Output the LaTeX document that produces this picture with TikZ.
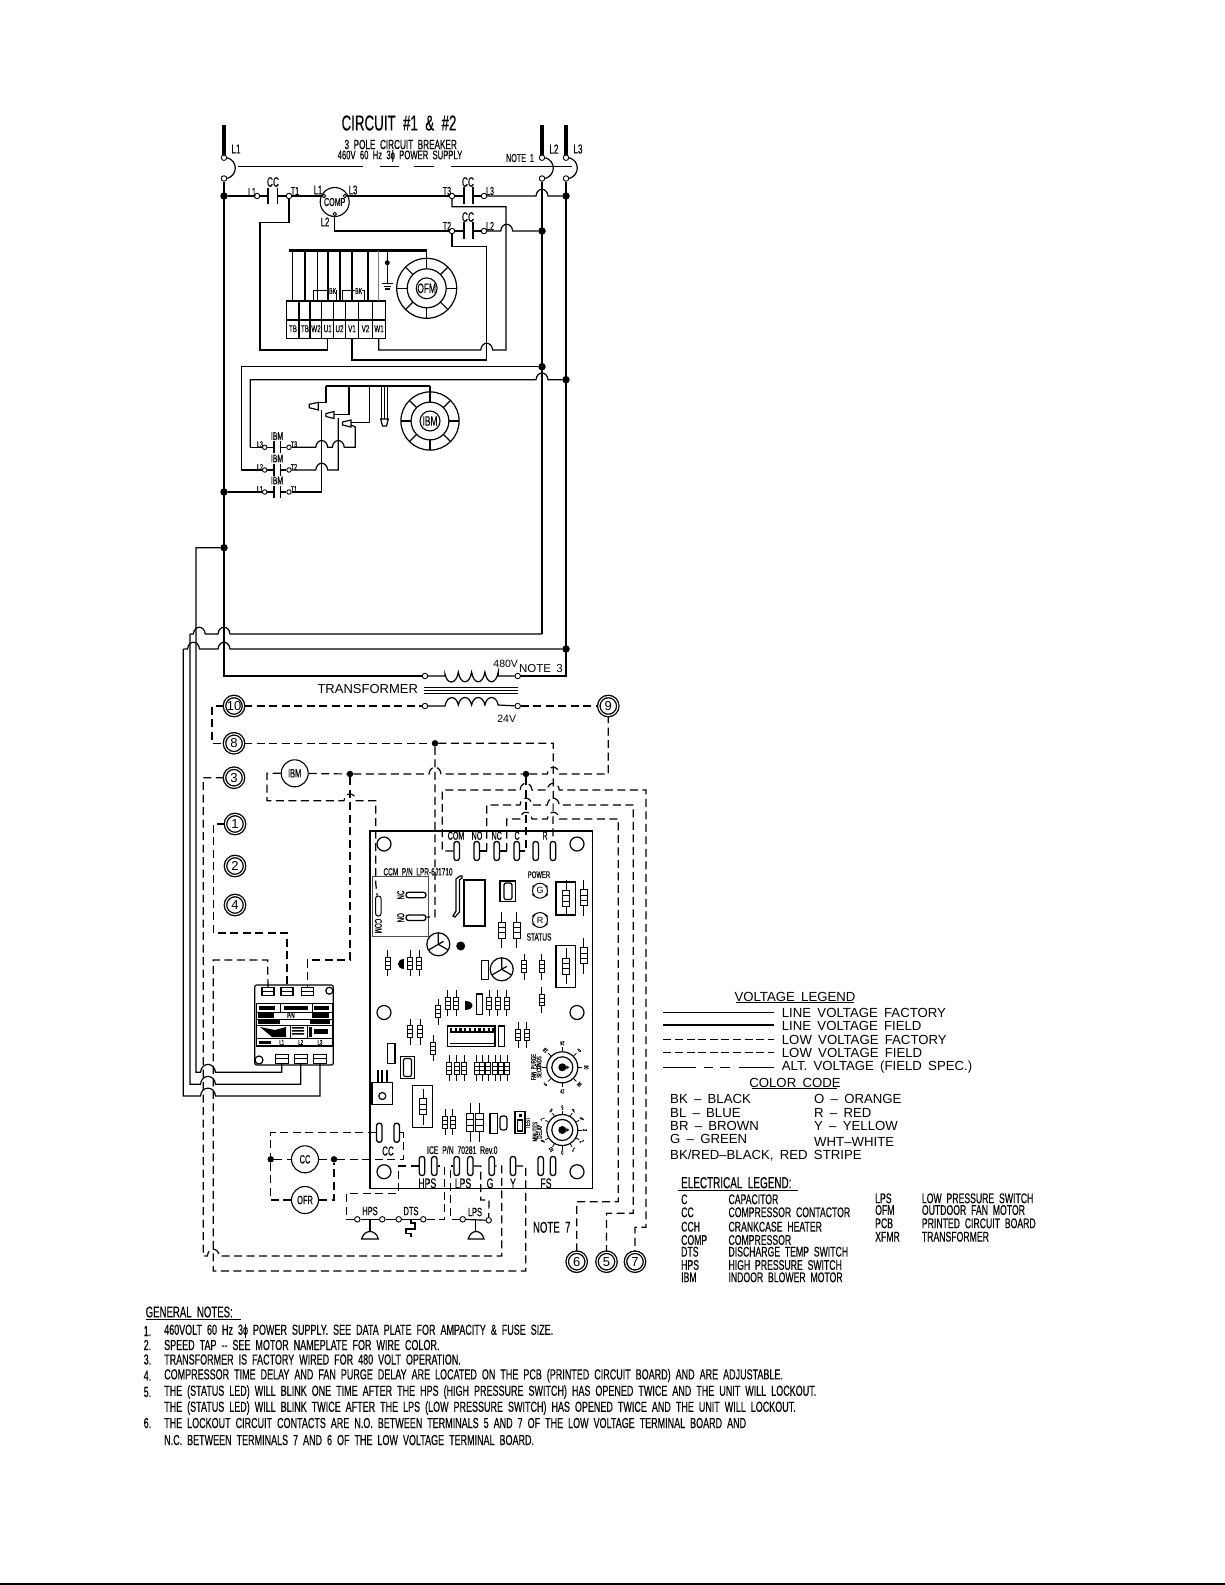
\documentclass[tikz,border=0pt]{standalone}
\usepackage{fontspec}
\setmainfont[WordSpace=1.7]{Liberation Sans}
\newfontfamily\cadn[FakeStretch=0.62,WordSpace=2,FakeBold=0.3]{Liberation Sans}
\newcommand{\wirehop}[2]{-- (#1-6,#2) .. controls (#1-5,#2-9) and (#1+5,#2-9) .. (#1+6,#2)}
\newcommand{\widehop}[2]{-- (#1-7.5,#2) .. controls (#1-6.5,#2-10.5) and (#1+6.5,#2-10.5) .. (#1+7.5,#2)}
\tikzset{
wire/.style={line width=1.2pt},
busw/.style={line width=2.6pt},
lowv/.style={line width=1.2pt,dash pattern=on 8pt off 4.5pt},
thinw/.style={line width=.8pt},
dot/.style={circle,fill=black,inner sep=0pt,minimum size=7.5pt},
term/.style={circle,draw,line width=.9pt,fill=white,inner sep=0pt,minimum size=5.5pt},
ring/.style={circle,draw,line width=1.3pt,double distance=1.1pt,fill=white,inner sep=0pt,minimum size=19pt,font=\fontsize{13}{13}\selectfont},
coil/.style={circle,draw,line width=1.1pt,inner sep=0pt,minimum size=27pt,cad=12},
cad/.style={inner sep=0pt,font=\cadn\fontsize{#1}{#1}\selectfont},
cadw/.style={inner sep=0pt,anchor=west,cad=#1},
wide/.style={inner sep=0pt,anchor=west,font=\fontsize{13.2}{14}\selectfont},
pinv/.style={rectangle,rounded corners=2.5pt,draw,line width=1.3pt,minimum width=5.5pt,minimum height=19pt,inner sep=0pt,fill=white},
pinh/.style={rectangle,rounded corners=2.5pt,draw,line width=1.3pt,minimum width=20pt,minimum height=5.5pt,inner sep=0pt,fill=white},
lug/.style={rectangle,draw,line width=1.1pt,minimum width=12pt,minimum height=8pt,inner sep=0pt,path picture={\draw (path picture bounding box.west) -- (path picture bounding box.east);}},
resv/.pic={
  \draw[thinw] (0,-18) -- (0,18);
  \draw[line width=1pt,fill=white] (-3.4,-8) rectangle (3.4,8);
  \draw[thinw] (-3.4,-2.7) -- (3.4,-2.7) (-3.4,2.7) -- (3.4,2.7);
},
fan/.pic={
  \draw[wire] (0,0) circle (30) (0,0) circle (19.5);
  \foreach \a in {0,45,...,315} \draw[wire] (\a:19.5) -- (\a:30);
},
trans/.pic={
  \draw[wire] (0,0) circle (11.5);
  \draw[wire] (0,0) -- (30:11.5) (0,0) -- (150:11.5) (0,0) -- (270:11.5);
  \draw[wire] (0,0) -- (-30:6);
},
dial/.pic={
  \draw[wire] (0,0) circle (15.5) (0,0) circle (10.5);
  \fill (0,0) circle (4);
  \fill (4,-2) -- (7,0) -- (4,2) -- cycle;
},
}
\begin{document}
\begin{tikzpicture}[x=1pt,y=-1pt]
\useasboundingbox (0,0) rectangle (1225,1585);
\draw[line width=1.6pt] (0,1584.2) -- (1225,1584.2);

% breaker and line side
\foreach \n/\x in {l1/224,l2/542,l3/566}{
  \draw[line width=3.6pt] (\x,125) -- (\x,155);
  \node[term] (\n top) at (\x,157.7) {};
  \node[term] (\n bot) at (\x,178.5) {};
  \draw[wire] (\n top.east) .. controls (\x+14,161) and (\x+14,175) .. (\n bot.east);
}
\node[cad=13] at (236,149) {L1};
\node[cad=13] at (554,149) {L2};
\node[cad=13] at (578,149) {L3};
\node[cad=11.5] at (520,158) {NOTE 1};
\node[cad=21.5] at (399,123) {CIRCUIT \#1 \& \#2};
\node[cad=13.2] at (400.7,144.5) {3 POLE CIRCUIT BREAKER};
\node[cad=12.4] at (400,156) {460V 60 Hz 3ϕ POWER SUPPLY};
\draw[wire] (238,166.7) -- (363,166.7) (380,166.7) -- (399,166.7) (414,166.7) -- (434,166.7) (451,166.7) -- (572,166.7);

\node[dot] (jl1) at (224,196) {};
\node[dot] (jl1b) at (224,492) {};
\node[dot] (jl1c) at (224,547.7) {};
\node[dot] (jl3) at (566,196) {};
\node[dot] (jl2) at (542,231) {};
\node[dot] (jl2b) at (542,366.7) {};
\node[dot] (jl3b) at (566,379.7) {};
\node[dot] (jl3c) at (566,649) {};
\draw[wire] (l1bot) -- (224,676) -- (425,676);
\draw[wire] (l2bot) -- (542,634);
\draw[wire] (l3bot) -- (566,676) -- (517.7,676);

% compressor contactor
\foreach \n/\t/\x/\y in {a/L1/257/196,b/T1/289/196,c/T3/452/196,d/L3/484/196,e/T2/452/231,f/L2/484/231}
  \node[term] (cc\n) at (\x,\y) {};
\draw[wire] (268,188) -- (268,204) (277.7,188) -- (277.7,204);
\draw[wire] (464,187) -- (464,204) (473,187) -- (473,204);
\draw[wire] (464,222) -- (464,239) (473,222) -- (473,239);
\draw[wire] (jl1) -- (cca) -- (268,196) (277.7,196) -- (ccb);
\draw[wire] (ccc) -- (464,196) (473,196) -- (ccd);
\draw[wire] (cce) -- (464,231) (473,231) -- (ccf);
\node[cad=13.5] at (273,182) {CC};
\node[cad=13.5] at (468,182) {CC};
\node[cad=13.5] at (468,217) {CC};
\node[cad=11.5] at (252,192) {L1};
\node[cad=11.5] at (295,191) {T1};
\node[cad=11.5] at (447,191) {T3};
\node[cad=11.5] at (490,191) {L3};
\node[cad=11.5] at (447,226) {T2};
\node[cad=11.5] at (490,226) {L2};

% compressor
\node[circle,draw,line width=1.1pt,minimum size=29pt,inner sep=0pt,cad=11.5] (comp) at (334.7,202) {COMP};
\node[term,minimum size=3.5pt] (compa) at (324,196) {};
\node[term,minimum size=3.5pt] (compc) at (345,196) {};
\node[term,minimum size=3.5pt] (compb) at (334.7,214) {};
\node[cad=12.5] at (318,190) {L1};
\node[cad=12.5] at (353,190) {L3};
\node[cad=12.5] at (325,222) {L2};
\draw[wire] (ccb) -- (compa);
\draw[wire] (compc) -- (ccc);
\draw[wire] (compb) -- (334.7,231) -- (cce);
\draw[wire] (ccd) \wirehop{542}{196} -- (jl3);
\draw[wire] (ccf) \wirehop{506.7}{231} -- (jl2);

% outdoor fan motor
\foreach \x/\t [count=\i] in {293/TB,305/TB,316/W2,327.7/U1,339.5/U2,352/V1,365.5/V2,379/W1}
  \node[cad=10] (tb\i) at (\x,328.7) {\t};
\draw[wire] (286.7,301) rectangle (385.7,338.7) (286.7,320) -- (385.7,320);
\foreach \x in {299,310,321.7,333.3,345.7,358.3,372.7} \draw[wire] (\x,301) -- (\x,338.7);
\draw[busw] (289,250.7) -- (426.7,250.7);
\foreach \x in {292.7,305,317.3,328,340,352,368} \draw[wire] (\x,250.7) -- (\x,301);
\draw[thinw,gray] (378.7,250.7) -- (378.7,301);
\draw[wire] (387.3,250.7) -- (387.3,283);
\fill (387.3,262.7) circle (2.5);
\draw[wire] (381.7,283.5) -- (392.7,283.5) (383.5,286.2) -- (391,286.2) (385,288.9) -- (389.5,288.9);
\draw[thinw] (313,301) -- (313,290.7) -- (336.5,290.7) -- (336.5,301);
\draw[thinw] (342.7,301) -- (342.7,290.7) -- (364,290.7) -- (364,301);
\node[cad=8.5,fill=white] at (332.7,291) {BK};
\node[cad=8.5,fill=white] at (358.7,291) {BK};
\node[circle,draw,line width=1.1pt,minimum size=20pt,inner sep=0pt,cad=13.5] (ofm) at (426.7,288.3) {OFM};
\pic at (ofm) {fan};
\draw[wire] (426.7,250.7) -- (426.7,258.3);
\coordinate (tu1) at (327.7,338.7);
\coordinate (tv1) at (352,338.7);
\coordinate (tw1) at (378.7,338.7);
\draw[wire] (ccb) -- (289,222.7) -- (260,222.7) -- (260,350) -- (327.7,350) -- (tu1);
\draw[wire] (tw1) -- (378.7,350) \wirehop{486.7}{350} -- (506,350) -- (506,206.7) -- (452,206.7) -- (ccc);
\draw[wire] (cce) -- (452,246.7) -- (486.7,246.7) -- (486.7,360) -- (352,360) -- (tv1);

% indoor blower motor feed
\draw[wire] (jl2b) -- (241.3,366.7) -- (241.3,470) -- (256,470);
\draw[wire] (250.3,447.3) -- (250.3,379.7) \wirehop{542}{379.7} -- (jl3b);
\draw[wire] (250.3,447.3) -- (256,447.3);
\foreach \n/\y/\t/\u in {c/447.3/L3/T3,b/470/L2/T2,a/492/L1/T1}{
  \node[term,minimum size=4.5pt] (ibml\n) at (264.7,\y) {};
  \node[term,minimum size=4.5pt] (ibmt\n) at (289,\y) {};
  \draw[wire] (274,\y-6) -- (274,\y+6) (280.7,\y-6) -- (280.7,\y+6);
  \draw[wire] (ibml\n) -- (274,\y) (280.7,\y) -- (ibmt\n);
  \node[cad=8.5] at (260,\y-3) {\t};
  \node[cad=8.5] at (294,\y-3) {\u};
}
\draw[wire] (256,447.3) -- (ibmlc);
\draw[wire] (256,470) -- (ibmlb);
\draw[wire] (jl1b) -- (ibmla);
\node[cad=11] at (277,436) {IBM};
\node[cad=11] at (277,458.5) {IBM};
\node[cad=11] at (277,480.5) {IBM};
\draw[busw] (326,386) -- (430,386);
\draw[wire,fill=white] (309.3,404.3) -- (318.3,402.3) -- (318.3,410) -- (309.3,407.7) -- cycle;
\draw[wire,fill=white] (326,413.5) -- (334,411.5) -- (334,418.5) -- (326,416.5) -- cycle;
\draw[wire,fill=white] (342.5,422) -- (351,420) -- (351,427) -- (342.5,425) -- cycle;
\draw[wire] (318.3,402.3) -- (326,402.3) -- (326,386);
\draw[wire] (334,414.3) -- (349,414.3) -- (349,386);
\draw[wire] (351,422.3) -- (369.3,422.3) -- (369.3,386);
\draw[thinw] (381.7,386) -- (381.7,419) (384.5,386) -- (384.5,419) (387.3,386) -- (387.3,419);
\draw[wire,fill=white] (380.7,419) -- (388.3,419) -- (386.5,426) -- (382.5,426) -- cycle;
\draw[wire] (ibmta) -- (321.7,492) -- (321.7,410);
\draw[wire] (ibmtb) \wirehop{321.7}{470} -- (338.3,470) -- (338.3,418);
\draw[wire] (ibmtc) \wirehop{321.7}{447.3} \wirehop{338.3}{447.3} -- (355.3,447.3) -- (355.3,427) -- (351,425);
\node[circle,draw,line width=1.1pt,minimum size=20pt,inner sep=0pt,cad=13.5] (ibmm) at (430,421) {IBM};
\pic[scale=.97] at (ibmm) {fan};
\draw[wire] (430,386) -- (430,392);

% transformer
\node[term] (xfa) at (425,676) {};
\node[term] (xfb) at (517.7,676) {};
\node[term] (xfc) at (425,706) {};
\node[term] (xfd) at (517.7,706) {};
\draw[wire] (xfa) -- (445,676) -- (445,674) foreach \i in {0,...,3} { .. controls (445+\i*13.3+2,685) and (445+\i*13.3+11.3,685) .. (445+\i*13.3+13.3,672)} -- (498.2,676) -- (xfb);
\draw[wire] (xfc) -- (445,706) -- (445,706) foreach \i in {0,...,3} { .. controls (445+\i*13.3+2,695) and (445+\i*13.3+11.3,695) .. (445+\i*13.3+13.3,705)} -- (xfd);
\draw[thinw] (424,687.7) -- (518.3,687.7) (424,690.4) -- (518.3,690.4) (424,693) -- (518.3,693);
\node[font=\fontsize{13}{13}\selectfont,inner sep=0pt] at (367.7,689) {TRANSFORMER};
\node[font=\fontsize{10.5}{11}\selectfont,inner sep=0pt] at (505.7,664.3) {480V};
\node[font=\fontsize{11.5}{12}\selectfont,inner sep=0pt] at (541,669) {NOTE 3};
\node[font=\fontsize{10.5}{11}\selectfont,inner sep=0pt] at (506.7,719) {24V};

% low voltage terminals
\node[ring] (r10) at (234,706) {10};
\node[ring] (r9) at (608.3,706) {9};
\node[ring] (r8) at (234,743.3) {8};
\node[ring] (r3) at (234,777.7) {3};
\node[ring] (r1) at (235,824) {1};
\node[ring] (r2) at (235,866) {2};
\node[ring] (r4) at (235,905) {4};
\node[ring] (r6) at (576.7,1261.7) {6};
\node[ring] (r5) at (606.5,1261.7) {5};
\node[ring] (r7) at (635,1261.7) {7};
\node[dot,minimum size=6.5pt] (j8) at (435,743.3) {};
\node[dot,minimum size=6.5pt] (jibm) at (350,774) {};
\node[dot,minimum size=6.5pt] (jc) at (526,774) {};
\node[coil] (ibmc) at (294.7,773.3) {IBM};
\node[coil] (cc) at (305,1159.3) {CC};
\node[coil] (ofr) at (305,1200) {OFR};
\node[dot,minimum size=6.5pt] (jcca) at (270.7,1159.3) {};
\node[dot,minimum size=6.5pt] (jccb) at (334,1159.3) {};

% control board
\draw[line width=1.4pt] (370,831) rectangle (592.3,1188.3);
\foreach \x/\y in {384/844,577/844,384/1012.5,577/1012.5,384/1171.7,577/1171.7}
  \draw[wire] (\x,\y) circle (7);
\foreach \n/\x/\t in {com/456.7/COM,no/476.7/NO,nc/496.7/NC,c/516.7/C,x/535.7/,r/553/}{
  \node[pinv] (p\n) at (\x,851) {};
}
\node[cad=11.5,fill=white,inner xsep=1pt] at (456,835.7) {COM};
\node[cad=11.5,fill=white,inner xsep=1pt] at (477,835.7) {NO};
\node[cad=11.5,fill=white,inner xsep=1pt] at (496.7,835.7) {NC};
\node[cad=11.5,fill=white,inner xsep=1pt] at (517,835.7) {C};
\node[cad=11.5] at (545,835.7) {R};
\foreach \n/\x/\y in {chps/422/1166,dhps/434.3/1166,clps/456.7/1166,dlps/470.3/1166,g/491.7/1166,y/513/1166,fsa/540.7/1166,fsb/553/1166,cca/379.3/1132.7,ccb/396.7/1132.7}
  \node[pinv] (p\n) at (\x,\y) {};
\node[cad=14] at (427.3,1183.3) {HPS};
\node[cad=14] at (463,1183.3) {LPS};
\node[cad=14] at (490,1183.3) {G};
\node[cad=14] at (513,1183.3) {Y};
\node[cad=14] at (546,1183.3) {FS};
\node[cad=13] at (388,1151) {CC};
\node[cad=11] at (462.3,1150) {ICE P/N 70281 Rev.0};

% lockout relay
\node[cad=10.5] at (418,871.7) {CCM P/N LPR-6J1710};
\draw[line width=1.3pt,black!70] (372.7,876.7) rectangle (428.3,936.7);
\node[pinh] (pno) at (416,917.7) {};
\node[pinh] (pnc) at (416,895) {};
\node[pinv,line width=1pt,minimum height=20pt] (pcm) at (378.3,906) {};
\node[cad=10,rotate=90] at (400.7,895) {NC};
\node[cad=10,rotate=90] at (400.7,917.7) {NO};
\node[cad=10,rotate=-90] at (378.3,926) {COM};

% board parts
\draw[wire] (464,880) rectangle (485,926);
\draw[wire] (456,879) -- (460,876) -- (462,876) -- (462,878) -- (459.5,880) -- (459.5,912) -- (455,917) -- (453,916) -- (456,911) -- cycle;
\draw[wire] (500,881) rectangle (515.7,901.7);
\draw[wire,rounded corners=2pt] (504,883) rectangle (512,899.5);
\foreach \l/\t/\y/\u/\v/\f in {g/G/890.7/POWER/874.7/9.5,r/R/920/STATUS/937/10.5}{
  \node[circle,draw,line width=1pt,minimum size=15pt,inner sep=0pt,font=\fontsize{9}{9}\selectfont] (led\l) at (540,\y) {\t};
  \foreach \a in {45,135,225,315} \draw[thinw] (led\l.\a) -- ++(\a:3);
  \node[cad=\f] at (539,\v) {\u};
}
\draw[wire] (556,882) rectangle (575.7,915);
\draw[wire] (556,945.7) rectangle (575.7,987.7);
\draw[wire] (412.7,1085.7) rectangle (432.7,1127.7);
\foreach \x/\y/\s in {566/898.3/1,583.7/897.7/1,501.7/930/1,516.7/930/1,566/966/1,583.7/955.7/1,423.3/1106.7/1,470/1122.3/1.1,479.3/1122.3/1.1,
  387.7/963.3/.72,410/963.3/.72,419.3/963.3/.72,524/966.7/.72,541.7/966.7/.72,541.7/1000/.72,438.3/1011.7/.72,447.7/1003.3/.72,456/1003.3/.72,489/1003.3/.72,497.7/1003.3/.72,506.7/1003.3/.72,
  410/1031.7/.72,420.3/1031.7/.72,433.3/1048.3/.72,518.3/1035/.72,526.7/1035/.72,449/1068.3/.72,456.7/1068.3/.72,464.3/1068.3/.72,476.7/1068.3/.72,482.3/1068.3/.72,488.3/1068.3/.72,495/1068.3/.72,500.7/1068.3/.72,507/1068.3/.72,445/1122.3/.72,452.7/1122.3/.72}
  \pic[scale=\s] at (\x,\y) {resv};
\fill (460.7,946) circle (4.5);
\fill (403.7,958.5) .. controls (396,958.5) and (396,968.5) .. (403.7,968.5) -- cycle;
\fill (464.5,1000.5) .. controls (474.5,1000.5) and (474.5,1009.5) .. (464.5,1009.5) -- cycle;
\pic at (438.3,944.3) {trans};
\pic at (501.7,969.3) {trans};
\draw[wire] (481.7,960.7) rectangle (488.3,979.3);
\draw[wire] (476.7,994) rectangle (482.3,1014.3);
% chip
\draw[wire] (447.7,1026) rectangle (495,1046.7);
\draw[line width=1.6pt] (449.5,1032) -- (493.5,1032) (449.5,1043.5) -- (493.5,1043.5);
\foreach \i in {0,...,9} \fill (450+\i*4.7,1028) rectangle ++(2.3,2.6);
\draw[wire] (498.3,1026) rectangle (504.3,1046.7);
\draw[wire] (387.7,1043.3) rectangle (395,1063.3);
\draw[wire] (400.7,1056.7) rectangle (414.3,1078.3);
\draw[wire,rounded corners=2pt] (403.5,1058.5) rectangle (411.5,1076.5);
\draw[wire] (372,1082.3) rectangle (392.7,1104.3);
\draw[wire] (382.3,1096) circle (3.5);
\foreach \x in {377.7,382.3,386.7} \draw[line width=2pt] (\x,1070) -- (\x,1082.3);
\draw[wire] (490,1113.3) rectangle (497.3,1133.3);
\draw[wire,rounded corners=2.5pt] (500,1116) rectangle (507,1130);
\draw[wire] (515,1111.7) rectangle (525,1133.3);
\draw[wire] (517.5,1120) rectangle (522.5,1131);
\fill (518.5,1114) rectangle (521.5,1117);
% dials
\pic at (562.3,1067.3) {dial};
\pic at (562.3,1130) {dial};
\foreach \a/\t in {0/30,45/36,90/42,135/6,180/12,225/18,270/24,315/0}{
  \draw[thinw] (562.3,1067.3) ++(\a:16) -- ++(\a:4);
  \node[cad=6,rotate=\a-90] at ([shift={(\a:24)}]562.3,1067.3) {\t};
}
\foreach \a/\t in {0/3,30/2,60/1,90/0,120/10,150/9,210/7,240/6,270/5,300/4,330/8}{
  \draw[thinw] (562.3,1130) ++(\a:16) -- ++(\a:3.5);
  \node[cad=6,rotate=\a-90] at ([shift={(\a:22.5)}]562.3,1130) {\t};
}
\node[cad=7,rotate=90] at (533.5,1067) {FAN PURGE};
\node[cad=7,rotate=90] at (539,1067) {SECONDS};
\node[cad=7,rotate=90] at (527.5,1123) {TEST};
\node[cad=7,rotate=90] at (535,1131.7) {MINUTES};
\node[cad=7,rotate=90] at (539.5,1131.7) {DELAY};

% contactor
\draw[wire,rounded corners=2pt] (254.7,985) rectangle (333.3,1065);
\node[lug] (cta) at (268,991.7) {};
\node[lug] (ctb) at (287,991.7) {};
\node[lug] (ctc) at (307.3,991.7) {};
\node[lug,minimum width=13pt,minimum height=9pt] (ctd) at (281.7,1058.7) {};
\node[lug,minimum width=13pt,minimum height=9pt] (cte) at (300.7,1058.7) {};
\node[lug,minimum width=13pt,minimum height=9pt] (ctf) at (320,1058.7) {};
\draw[wire] (329.3,990.7) circle (3.5) (259,1060) circle (4);
\draw[wire] (256.7,1003.3) -- (332.3,1003.3) -- (332.3,1046) -- (256.7,1046) -- cycle;
\draw[thinw] (256.7,1012) -- (332.3,1012) (256.7,1019) -- (332.3,1019) (256.7,1025) -- (332.3,1025) (256.7,1038.5) -- (332.3,1038.5);
\draw[thinw] (280,1003.3) -- (280,1012) (312,1003.3) -- (312,1012) (290,1025) -- (290,1038.5) (307,1025) -- (307,1038.5);
\foreach \x/\w in {259/16,284/24,314/15} \fill (\x,1005.5) rectangle ++(\w,4);
\fill (258,1013) rectangle ++(16,5);
\fill (312,1013) rectangle ++(17,5);
\fill (258,1020) rectangle ++(22,3.5);
\fill (310,1020) rectangle ++(20,3.5);
\fill (260,1027) -- (275,1030) -- (286,1027) -- (286,1037) -- (272,1037) -- cycle;
\fill (292,1027) rectangle ++(12,1.5) (292,1030) rectangle ++(12,1.5) (292,1033) rectangle ++(12,1.5);
\fill (309,1026.5) rectangle ++(3,10.5);
\fill (314,1029) rectangle ++(14,5);
\node[cad=7] at (291,1015.5) {P/N};
\node[cad=7] at (281.7,1042.3) {L1};
\node[cad=7] at (300.7,1042.3) {L2};
\node[cad=7] at (320,1042.3) {L3};
\fill (259,1040.5) rectangle ++(12,3.5);

% lines down to the contactor
\draw[wire] (190,634) \wirehop{199.3}{634} \wirehop{224}{634} -- (542,634);
\draw[wire] (190,634) -- (190,1084.3) \widehop{208}{1084.3} -- (300.7,1084.3) -- (cte);
\draw[wire] (183.3,649) \wirehop{193.5}{649} \wirehop{224}{649} -- (jl3c);
\draw[wire] (183.3,649) -- (183.3,1096) \widehop{208}{1096} -- (320,1096) -- (ctf);
\draw[wire] (jl1c) -- (196,547.7) -- (196,1072.3) \widehop{208}{1072.3} -- (281.7,1072.3) -- (ctd);

% field switches
\node[term] (hpsa) at (357.3,1219.3) {};
\node[term] (hpsb) at (382.3,1219.3) {};
\node[term] (dtsa) at (398.7,1219.3) {};
\node[term] (dtsb) at (423.3,1219.3) {};
\node[term] (lpsa) at (462.7,1219.3) {};
\node[term] (lpsb) at (488.7,1220.3) {};
\draw[wire] (hpsa) -- (hpsb) (hpsb) -- (dtsa);
\draw[wire] (dtsa) -- (dtsb);
\draw[wire] (lpsa) -- (lpsb);
\draw[wire] (370,1220) -- (370,1231) (475.7,1220) -- (475.7,1231);
\draw[wire] (361.7,1239) .. controls (364,1229) and (376,1229) .. (378.3,1239) -- cycle;
\draw[wire] (468.3,1239) .. controls (470.5,1229) and (481.8,1229) .. (484,1239) -- cycle;
\draw[wire] (411,1219.3) -- (411,1223) -- (415,1223) -- (415,1229) -- (406,1229) -- (406,1233.3) -- (411,1233.3) -- (411,1236.7);
\node[cad=12] at (370,1211) {HPS};
\node[cad=12] at (411,1211) {DTS};
\node[cad=12] at (475,1212) {LPS};
\node[cad=15.5] at (551.7,1227.3) {NOTE 7};

% low voltage wiring
\draw[lowv] (r10) -- (xfc);
\draw[lowv] (xfd) -- (r9);
\draw[lowv] (r10) -- (212,706) -- (212,743.3) -- (r8);
\draw[lowv] (r8) -- (j8);
\draw[lowv] (j8) -- (553.3,743.3) -- (pr);
\draw[lowv] (j8) -- (435,916.7) -- (pno);
\draw[lowv] (jc) \wirehop{553.3}{774} -- (608.3,774) -- (r9);
\draw[lowv] (ibmc) -- (jibm);
\draw[lowv] (jibm) \wirehop{435}{774} -- (jc);
\draw[lowv] (ibmc) -- (267,773.3) -- (267,800.7) \wirehop{350}{800.7} -- (375.7,800.7) -- (375.7,883) -- (pcm);
\draw[lowv] (jc) -- (526,851) -- (pc);
\draw[lowv] (pcom) -- (442.3,851) -- (442.3,790) \wirehop{526}{790} \wirehop{553.3}{790} -- (646,790) -- (646,1227.3) -- (635,1227.3) -- (r7);
\draw[lowv] (486.7,851) -- (486.7,805) \wirehop{526}{805} \wirehop{553.3}{805} -- (633.3,805) -- (633.3,1213.3) -- (606.5,1213.3) -- (r5);
\draw[lowv] (506.7,851) -- (506.7,819) \wirehop{526}{819} \wirehop{553.3}{819} -- (618.3,819) -- (618.3,1201.7) -- (576.7,1201.7) -- (r6);
\draw[wire] (479.5,851) -- (486.7,851) (499.5,851) -- (506.7,851);
\draw[lowv] (r3) -- (203.3,777.7) -- (203.3,1256) -- (207.3,1256) \wirehop{213.3}{1256} -- (501.7,1256) -- (501.7,1166) -- (pg);
\draw[lowv] (r1) -- (213.3,824) -- (213.3,933) -- (287,933) -- (ctb);
\draw[lowv] (cta) -- (267.7,960) -- (213.3,960) -- (213.3,1271) -- (525.7,1271) -- (525.7,1166) -- (py);
\draw[lowv] (jibm) -- (350,960) -- (307.3,960) -- (ctc);
\draw[lowv] (pcca) -- (270.7,1132.7) -- (jcca);
\draw[lowv] (jcca) -- (cc);
\draw[lowv] (cc) -- (jccb);
\draw[lowv] (jcca) -- (270.7,1200) -- (ofr);
\draw[lowv] (ofr) -- (334,1200) -- (jccb);
\draw[lowv] (jccb) -- (403.3,1159.3) -- (403.3,1132.7) -- (pccb);
\draw[lowv] (pchps) -- (398.3,1166) -- (398.3,1193.3) -- (346.7,1193.3) -- (346.7,1219.3) -- (hpsa);
\draw[lowv] (dtsb) -- (444.3,1219.3) -- (444.3,1166) -- (pdhps);
\draw[lowv] (lpsa) -- (450.7,1219.3) -- (450.7,1166) -- (pclps);
\draw[lowv] (pdlps) -- (480.7,1166) -- (480.7,1200) -- (489,1200) -- (lpsb);

% voltage legend
\node[wide,anchor=center] at (795,996.7) {VOLTAGE LEGEND};
\draw[thinw] (736,1002.7) -- (854,1002.7);
\draw[wire] (663.3,1012.3) -- (774.3,1012.3);
\draw[wire] (663.3,1025) -- (774.3,1025);
\draw[wire,dash pattern=on 8pt off 3.6pt] (663.3,1039.3) -- (774.3,1039.3);
\draw[wire,dash pattern=on 8pt off 3.6pt] (663.3,1052.7) -- (774.3,1052.7);
\draw[wire] (663,1067.3) -- (695.7,1067.3) (704,1067.3) -- (713,1067.3) (720,1067.3) -- (730,1067.3) (739,1067.3) -- (774.3,1067.3);
\node[wide] at (781.7,1013) {LINE VOLTAGE FACTORY};
\node[wide] at (781.7,1026) {LINE VOLTAGE FIELD};
\node[wide] at (781.7,1040) {LOW VOLTAGE FACTORY};
\node[wide] at (781.7,1053) {LOW VOLTAGE FIELD};
\node[wide] at (781.7,1067) {ALT. VOLTAGE (FIELD SPEC.)};
\node[wide,anchor=center] at (795,1083.3) {COLOR CODE};
\draw[thinw] (751.7,1088.7) -- (837,1088.7);
\node[wide] at (670,1099) {BK -- BLACK};
\node[wide] at (670,1112.7) {BL -- BLUE};
\node[wide] at (670,1125.7) {BR -- BROWN};
\node[wide] at (670,1139.3) {G -- GREEN};
\node[wide] at (670,1156) {BK/RED--BLACK, RED STRIPE};
\node[wide] at (814,1099) {O -- ORANGE};
\node[wide] at (814,1113) {R -- RED};
\node[wide] at (814,1126) {Y -- YELLOW};
\node[wide] at (814,1142.3) {WHT--WHITE};

% electrical legend
\node[cadw=16] at (681,1182.7) {ELECTRICAL LEGEND:};
\draw[thinw] (678,1190) -- (798,1190);
\foreach \y/\a/\d in {1199.3/C/CAPACITOR,1212.3/CC/COMPRESSOR CONTACTOR,1226.7/CCH/CRANKCASE HEATER,1240/COMP/COMPRESSOR,1251.7/DTS/DISCHARGE TEMP SWITCH,1265/HPS/HIGH PRESSURE SWITCH,1277.3/IBM/INDOOR BLOWER MOTOR}{
  \node[cadw=14] at (681,\y) {\a};
  \node[cadw=14] at (728.3,\y) {\d};
}
\foreach \y/\a/\d in {1198.3/LPS/LOW PRESSURE SWITCH,1210/OFM/OUTDOOR FAN MOTOR,1223.3/PCB/PRINTED CIRCUIT BOARD,1236.7/XFMR/TRANSFORMER}{
  \node[cadw=14] at (875,\y) {\a};
  \node[cadw=14] at (921.7,\y) {\d};
}

% notes
\node[cadw=15.5] at (145.5,1312) {GENERAL NOTES:};
\draw[thinw] (145.5,1319.5) -- (241,1319.5);
\foreach \y/\n/\t in {1331/1./460VOLT 60 Hz 3ϕ POWER SUPPLY. SEE DATA PLATE FOR AMPACITY \& FUSE SIZE.,
  1345/2./SPEED TAP -- SEE MOTOR NAMEPLATE FOR WIRE COLOR.,
  1359.5/3./TRANSFORMER IS FACTORY WIRED FOR 480 VOLT OPERATION.,
  1375.6/4./COMPRESSOR TIME DELAY AND FAN PURGE DELAY ARE LOCATED ON THE PCB (PRINTED CIRCUIT BOARD) AND ARE ADJUSTABLE.,
  1392/5./THE (STATUS LED) WILL BLINK ONE TIME AFTER THE HPS (HIGH PRESSURE SWITCH) HAS OPENED TWICE AND THE UNIT WILL LOCKOUT.,
  1408//THE (STATUS LED) WILL BLINK TWICE AFTER THE LPS (LOW PRESSURE SWITCH) HAS OPENED TWICE AND THE UNIT WILL LOCKOUT.,
  1423/6./THE LOCKOUT CIRCUIT CONTACTS ARE N.O. BETWEEN TERMINALS 5 AND 7 OF THE LOW VOLTAGE TERMINAL BOARD AND,
  1440//N.C. BETWEEN TERMINALS 7 AND 6 OF THE LOW VOLTAGE TERMINAL BOARD.}{
  \node[cadw=14.5] at (143.5,\y) {\n};
  \node[cadw=14.5] at (164,\y) {\t};
}
\end{tikzpicture}
\end{document}
